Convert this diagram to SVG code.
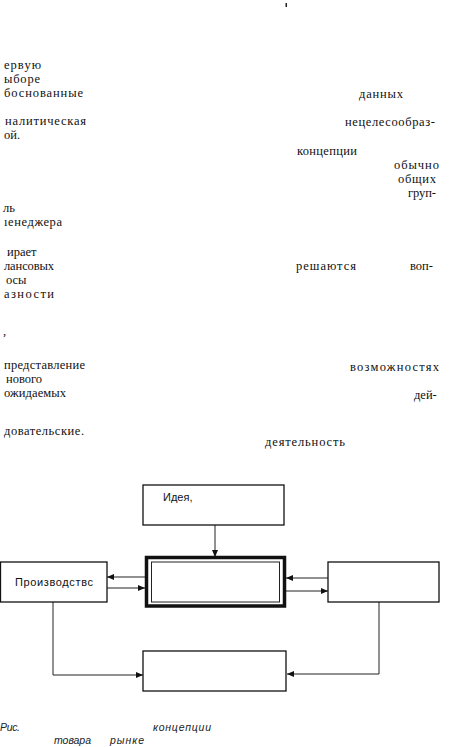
<svg xmlns="http://www.w3.org/2000/svg" width="464" height="747" viewBox="0 0 464 747">
<style>
.t{font-family:"Liberation Serif","Times New Roman",serif;font-size:12.5px;fill:#111}
.l{font-family:"Liberation Sans",Arial,sans-serif;font-size:11px;fill:#111}
.c{font-family:"Liberation Sans",Arial,sans-serif;font-size:10.5px;font-style:italic;fill:#222}
.box{fill:#fff;stroke:#111;stroke-width:1.3}
.ln{fill:none;stroke:#222;stroke-width:1}
</style>
<defs>
<marker id="ah" markerWidth="8" markerHeight="8" refX="7" refY="4" orient="auto" markerUnits="userSpaceOnUse">
<path d="M0,1 L7,4 L0,7 Z" fill="#111"/>
</marker>
</defs>
<rect width="464" height="747" fill="#fff"/>
<rect x="285.5" y="3" width="1.5" height="4" fill="#222"/>
<g id="text">
<text class="t" x="4" y="69" textLength="37" lengthAdjust="spacing">ервую</text>
<text class="t" x="4" y="83" textLength="36" lengthAdjust="spacing">ыборе</text>
<text class="t" x="4" y="97" textLength="79" lengthAdjust="spacing">боснованные</text>
<text class="t" x="5" y="125" textLength="81" lengthAdjust="spacing">налитическая</text>
<text class="t" x="4" y="139">ой.</text>
<text class="t" x="3" y="212">ль</text>
<text class="t" x="4" y="226" textLength="58" lengthAdjust="spacing">ıенеджера</text>
<text class="t" x="7" y="256">ирает</text>
<text class="t" x="4" y="270" textLength="50" lengthAdjust="spacing">лансовых</text>
<text class="t" x="6" y="284">осы</text>
<text class="t" x="4" y="298" textLength="50" lengthAdjust="spacing">азности</text>
<text class="t" x="3" y="335">,</text>
<text class="t" x="4" y="369" textLength="81" lengthAdjust="spacing">представление</text>
<text class="t" x="6" y="383">нового</text>
<text class="t" x="4" y="397" textLength="62" lengthAdjust="spacing">ожидаемых</text>
<text class="t" x="4" y="435" textLength="80" lengthAdjust="spacing">довательские.</text>
<text class="t" x="359" y="98" textLength="44" lengthAdjust="spacing">данных</text>
<text class="t" x="345" y="126" textLength="90" lengthAdjust="spacing">нецелесообраз-</text>
<text class="t" x="297" y="155" textLength="60" lengthAdjust="spacing">концепции</text>
<text class="t" x="394" y="169" textLength="45" lengthAdjust="spacing">обычно</text>
<text class="t" x="398" y="183" textLength="38" lengthAdjust="spacing">общих</text>
<text class="t" x="408" y="197" textLength="28" lengthAdjust="spacing">груп-</text>
<text class="t" x="296" y="270" textLength="60" lengthAdjust="spacing">решаются</text>
<text class="t" x="410" y="270">воп-</text>
<text class="t" x="350" y="371" textLength="89" lengthAdjust="spacing">возможностях</text>
<text class="t" x="414" y="399">дей-</text>
<text class="t" x="265" y="446" textLength="80" lengthAdjust="spacing">деятельность</text>
</g>
<g id="connectors">
<line class="ln" x1="215" y1="525" x2="215" y2="557" marker-end="url(#ah)"/>
<line class="ln" x1="145" y1="577" x2="107" y2="577" marker-end="url(#ah)"/>
<line class="ln" x1="107" y1="588" x2="145" y2="588" marker-end="url(#ah)"/>
<line class="ln" x1="328" y1="578" x2="286" y2="578" marker-end="url(#ah)"/>
<line class="ln" x1="286" y1="591" x2="328" y2="591" marker-end="url(#ah)"/>
<polyline class="ln" points="53,602 53,675 143,675" marker-end="url(#ah)"/>
<polyline class="ln" points="379,602 379,674 287,674" marker-end="url(#ah)"/>
</g>
<g id="idea">
<rect class="box" x="143" y="485" width="141" height="40"/>
<text class="l" x="163" y="501">Идея,</text>
</g>
<g id="center">
<rect x="146.5" y="557.5" width="138" height="48.5" fill="#fff" stroke="#111" stroke-width="3.5"/>
<rect x="151.5" y="562" width="128" height="40" fill="none" stroke="#222" stroke-width="1"/>
</g>
<g id="production">
<rect class="box" x="0.5" y="562" width="106.5" height="40"/>
<text class="l" x="15" y="586" textLength="78" lengthAdjust="spacing">Производствс</text>
</g>
<g id="right">
<rect class="box" x="328" y="562" width="111" height="40"/>
</g>
<g id="bottom">
<rect class="box" x="143" y="651" width="143" height="40"/>
</g>
<g id="caption">
<text class="c" x="0" y="731" textLength="20" lengthAdjust="spacing">Рис.</text>
<text class="c" x="153" y="731" textLength="58" lengthAdjust="spacing">концепции</text>
<text class="c" x="54" y="744" textLength="37" lengthAdjust="spacing">товара</text>
<text class="c" x="110" y="744" textLength="34" lengthAdjust="spacing">рынке</text>
</g>
</svg>
